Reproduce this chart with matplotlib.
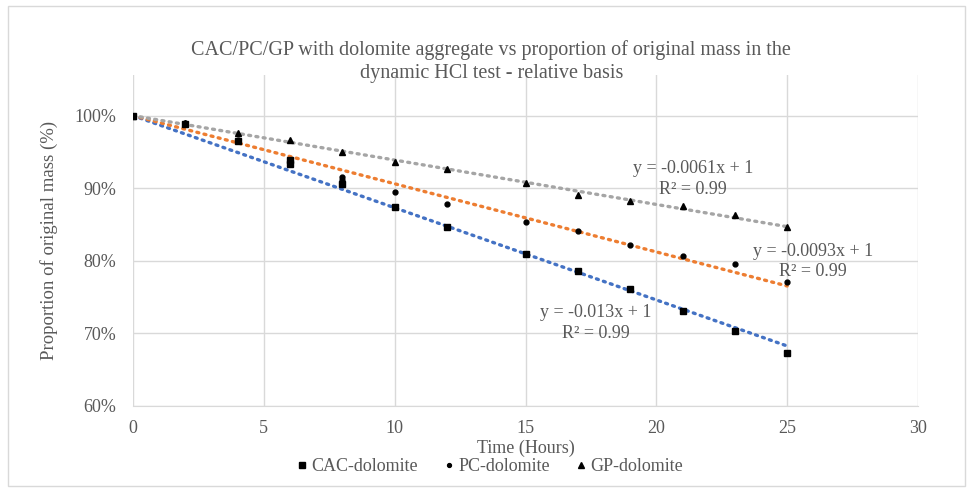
import numpy as np
import matplotlib.pyplot as plt
from matplotlib.ticker import PercentFormatter

plt.rcParams['font.family'] = ['Liberation Serif', 'DejaVu Serif']

# data (fraction of original mass)
cac_x = [0, 2, 4, 6, 6, 8, 10, 12, 15, 17, 19, 21, 23, 25]
cac_y = [1.0, 0.989, 0.965, 0.939, 0.934, 0.906, 0.874, 0.847, 0.810, 0.786, 0.761, 0.731, 0.704, 0.673]
pc_x = [0, 2, 4, 6, 8, 8, 10, 12, 15, 17, 19, 21, 23, 25]
pc_y = [1.0, 0.990, 0.967, 0.937, 0.916, 0.912, 0.895, 0.878, 0.853, 0.841, 0.822, 0.807, 0.795, 0.771]
gp_x = [0, 2, 4, 6, 8, 10, 12, 15, 17, 19, 21, 23, 25]
gp_y = [1.0, 0.990, 0.976, 0.967, 0.950, 0.936, 0.926, 0.907, 0.891, 0.883, 0.875, 0.863, 0.846]

labels = ['CAC-dolomite', 'PC-dolomite', 'GP-dolomite']
markers = ['s', 'o', '^']
msizes = [5, 3.5, 5]
line_colors = ['#4472C4', '#ED7D31', '#A5A5A5']
eq_text = ['y = -0.013x + 1\nR² = 0.99', 'y = -0.0093x + 1\nR² = 0.99', 'y = -0.0061x + 1\nR² = 0.99']
eq_pos = [(17.7, 0.714), (26.0, 0.799), (21.4, 0.913)]

fig = plt.figure(figsize=(9.73, 4.92), dpi=100)
ax = fig.add_axes([0.1367, 0.1748, 0.8068, 0.6728])

series = [(cac_x, cac_y), (pc_x, pc_y), (gp_x, gp_y)]
for (xs, ys), lab, mk, ms, lc in zip(series, labels, markers, msizes, line_colors):
    xs = np.array(xs, dtype=float)
    ys = np.array(ys)
    # linear trendline with intercept fixed at 1
    slope = np.sum(xs * (ys - 1)) / np.sum(xs ** 2)
    xt = np.array([0, 25])
    ax.plot(xt, 1 + slope * xt, color=lc, lw=2.4, ls=(0, (0.6, 1.6)),
            dash_capstyle='round', zorder=2)
    ax.plot(xs, ys, ls='none', marker=mk, ms=ms, color='black', label=lab, zorder=3)

for txt, (tx, ty) in zip(eq_text, eq_pos):
    ax.text(tx, ty, txt, ha='center', va='center', fontsize=13,
            color='#595959', linespacing=1.3)

ax.set_xlim(0, 30)
ax.set_ylim(0.6, 1.056)
ax.set_xticks(range(0, 31, 5))
ax.set_yticks([0.6, 0.7, 0.8, 0.9, 1.0])
ax.yaxis.set_major_formatter(PercentFormatter(1.0, decimals=0))
ax.grid(True, color='#D9D9D9', lw=1)
ax.set_axisbelow(True)
for s in ['top', 'right', 'left']:
    ax.spines[s].set_visible(False)
ax.spines['bottom'].set_color('#D9D9D9')
ax.tick_params(length=0, labelsize=13, colors='#595959')
ax.tick_params(axis='x', pad=10)
ax.tick_params(axis='y', pad=12)

ax.set_xlabel('Time (Hours)', fontsize=13, color='#595959')
ax.xaxis.set_label_coords(0.5, -0.103)
ax.set_ylabel('Proportion of original mass (%)', fontsize=13.5, color='#595959')
ax.yaxis.set_label_coords(-0.095, 0.5)

fig.text(0.505, 0.875, 'CAC/PC/GP with dolomite aggregate vs proportion of original mass in the\n'
         'dynamic HCl test - relative basis', ha='center', va='center',
         fontsize=14.5, color='#595959', linespacing=1.25)

ax.legend(loc='center', bbox_to_anchor=(0.455, -0.184), ncol=3, frameon=False,
          fontsize=13, handlelength=0.5, handletextpad=0.25, columnspacing=1.5,
          labelcolor='#595959', markerscale=0.8)

fig.patches.append(plt.Rectangle((0.008, 0.012), 0.984, 0.975, transform=fig.transFigure,
                                 fill=False, edgecolor='#D9D9D9', lw=1))

fig.savefig('out.png', dpi=100)
